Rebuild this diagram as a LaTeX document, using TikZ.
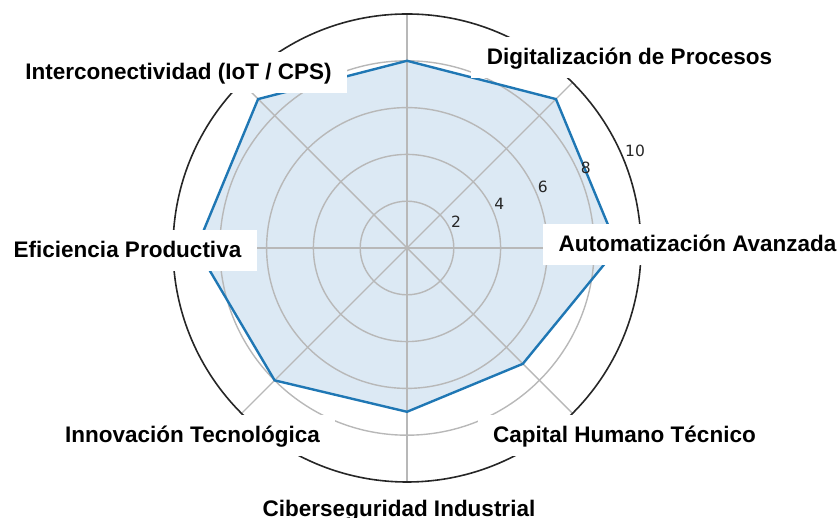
\documentclass[tikz,border=0pt]{standalone}
\usepackage{fontspec}
\setmainfont{Liberation Sans}
\newfontfamily\tickfont{DejaVu Sans}
\usetikzlibrary{calc}
\definecolor{mplblue}{HTML}{1F77B4}
\definecolor{fillblue}{HTML}{DCE9F4}
\definecolor{gridgray}{HTML}{B8B8B8}
\begin{document}
\begin{tikzpicture}[x=1pt,y=1pt,
 catlabel/.style={font=\fontsize{22.5}{27}\selectfont\bfseries, fill=white, anchor=base, inner xsep=15.5pt, inner ysep=12pt, text height=16pt, text depth=1pt},
 ticklabel/.style={font=\tickfont\fontsize{15.5}{18}\selectfont, inner sep=0pt, text=black!85},
 gridline/.style={draw=gridgray, line width=1.4pt},
 frameline/.style={draw=black!85, line width=1.6pt},
 series/.style={draw=mplblue, line width=2.4pt, line join=miter},
]
\useasboundingbox (0,0) rectangle (840,518);
\coordinate (c) at (407,270);
\def\u{23.4}
\foreach \a/\v/\n in {90/8/1,45/9/2,0/9/3,-45/7/4,-90/7/5,-135/8/6,180/9/7,135/9/8}
  \coordinate (p\n) at ([shift={(\a:\v*\u)}]c);
\foreach \a in {0,45,...,315}
  \coordinate (s\a) at ([shift={(\a:10*\u)}]c);
% fill
\fill[fillblue] (p1)--(p2)--(p3)--(p4)--(p5)--(p6)--(p7)--(p8)--cycle;
% grid
\foreach \r in {2,4,6,8}
  \draw[gridline] (c) circle[radius=\r*\u];
\foreach \a in {0,45,...,315}
  \draw[gridline] (c) -- (s\a);
% frame
\draw[frameline] (c) circle[radius=10*\u];
% series
\draw[series] (p1)--(p2)--(p3)--(p4)--(p5)--(p6)--(p7)--(p8)--cycle;
% radial tick labels
\node[ticklabel] (t2) at (456,296.3) {2};
\node[ticklabel] (t4) at (499.3,314) {4};
\node[ticklabel] (t6) at (542.7,331.3) {6};
\node[ticklabel] (t8) at (585.7,349.7) {8};
\node[ticklabel] (t10) at (635,367.3) {10};
% category labels
\node[catlabel] (l1) at (178.5,438) {Interconectividad (IoT / CPS)};
\node[catlabel] (l2) at (629.5,453) {Digitalización de Procesos};
\node[catlabel] (l3) at (697.5,266) {Automatización Avanzada};
\node[catlabel] (l4) at (127.5,260) {Eficiencia Productiva};
\node[catlabel] (l5) at (192.5,75) {Innovación Tecnológica};
\node[catlabel] (l6) at (624.5,75) {Capital Humano Técnico};
\node[catlabel] (l7) at (399,1.5) {Ciberseguridad Industrial};
\end{tikzpicture}
\end{document}
